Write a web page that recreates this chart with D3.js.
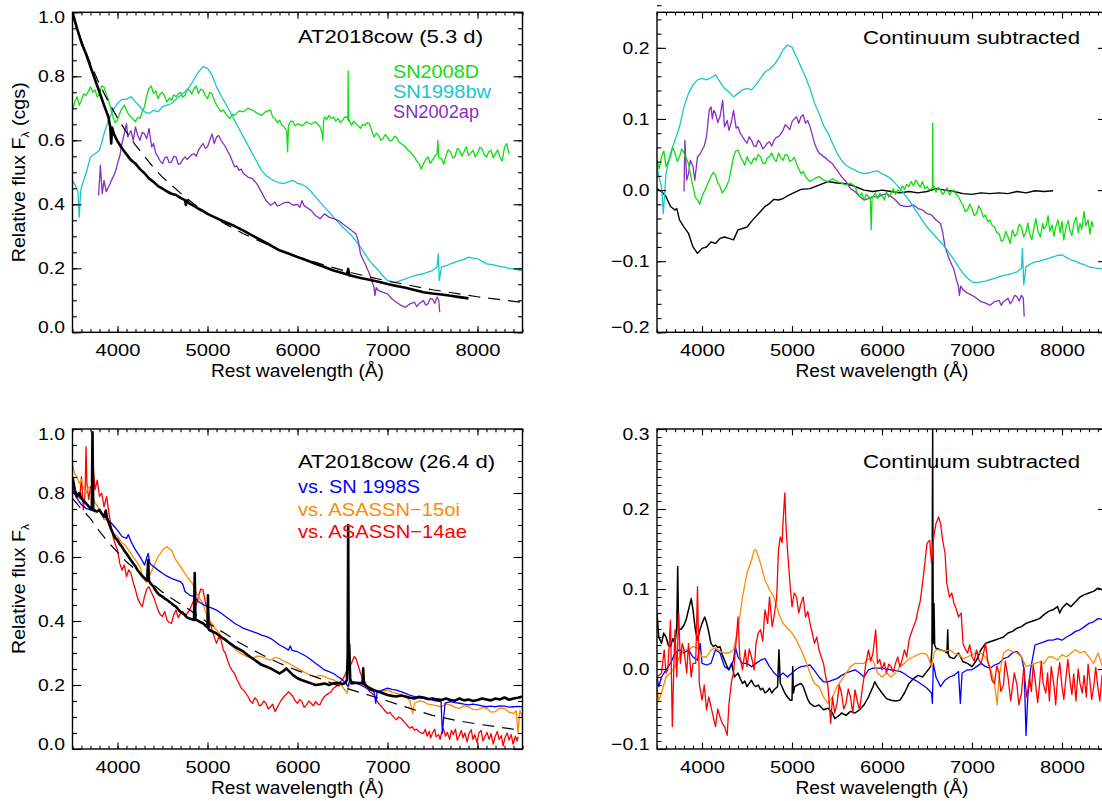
<!DOCTYPE html>
<html>
<head>
<meta charset="utf-8">
<script src="https://cdn.jsdelivr.net/npm/d3@7"></script>
<style>
  body { margin: 0; background: #fff; }
  text { font-family: "Liberation Sans", Arial, sans-serif; }
</style>
</head>
<body>
<svg id="chart" width="1102" height="801"></svg>
<script>
// ---- data: [wavelength (A), flux] ----

// panel A : AT2018cow at 5.3 d vs SNe Ic-BL
const cowEarly = [[3500,1.0],[3550,0.95],[3600,0.905],[3650,0.87],[3700,0.83],[3750,0.79],[3800,0.75],[3850,0.71],[3900,0.672],[3920,0.64],[3930,0.59],[3940,0.64],[3960,0.62],[4000,0.597],[4050,0.575],[4100,0.556],[4150,0.538],[4200,0.527],[4250,0.51],[4300,0.497],[4350,0.481],[4400,0.47],[4450,0.457],[4500,0.449],[4550,0.44],[4600,0.433],[4650,0.429],[4700,0.42],[4750,0.413],[4760,0.398],[4770,0.412],[4800,0.402],[4850,0.395],[4900,0.386],[4950,0.379],[5000,0.37],[5100,0.357],[5200,0.344],[5300,0.332],[5400,0.318],[5500,0.302],[5600,0.287],[5700,0.272],[5800,0.256],[5900,0.246],[6000,0.235],[6100,0.225],[6200,0.214],[6300,0.204],[6400,0.193],[6500,0.185],[6550,0.181],[6563,0.198],[6575,0.178],[6600,0.177],[6700,0.17],[6800,0.164],[6900,0.158],[7000,0.151],[7100,0.145],[7200,0.139],[7300,0.132],[7400,0.125],[7500,0.121],[7600,0.118],[7700,0.114],[7800,0.11],[7900,0.106]];
const fitEarly = [[3500,0.99],[3600,0.91],[3700,0.84],[3800,0.775],[3900,0.72],[4000,0.67],[4100,0.625],[4200,0.585],[4300,0.55],[4400,0.515],[4500,0.485],[4600,0.46],[4700,0.435],[4800,0.412],[4900,0.39],[5000,0.372],[5200,0.338],[5400,0.308],[5600,0.282],[5800,0.258],[6000,0.237],[6300,0.21],[6600,0.186],[7000,0.16],[7500,0.133],[8000,0.111],[8500,0.093]];
const sn2008dA = [[3500,0.694],[3525,0.72],[3550,0.736],[3575,0.71],[3600,0.725],[3625,0.745],[3650,0.74],[3675,0.752],[3700,0.767],[3725,0.75],[3750,0.757],[3775,0.735],[3800,0.746],[3825,0.77],[3850,0.767],[3875,0.745],[3900,0.725],[3925,0.7],[3950,0.673],[3975,0.655],[4000,0.663],[4025,0.685],[4050,0.7],[4075,0.71],[4100,0.694],[4125,0.68],[4150,0.673],[4175,0.665],[4200,0.658],[4225,0.672],[4250,0.668],[4275,0.69],[4300,0.705],[4325,0.74],[4350,0.762],[4375,0.77],[4400,0.746],[4425,0.755],[4450,0.73],[4475,0.745],[4500,0.75],[4525,0.738],[4550,0.72],[4575,0.732],[4600,0.725],[4625,0.742],[4650,0.736],[4675,0.745],[4700,0.75],[4725,0.735],[4750,0.74],[4775,0.76],[4800,0.757],[4825,0.745],[4850,0.762],[4875,0.77],[4900,0.746],[4925,0.76],[4950,0.757],[4975,0.74],[5000,0.73],[5025,0.75],[5050,0.746],[5075,0.725],[5100,0.71],[5125,0.7],[5150,0.689],[5175,0.695],[5200,0.684],[5225,0.675],[5250,0.668],[5275,0.682],[5300,0.678],[5350,0.692],[5400,0.689],[5450,0.7],[5500,0.694],[5550,0.685],[5600,0.678],[5650,0.69],[5700,0.694],[5725,0.672],[5750,0.668],[5775,0.655],[5800,0.663],[5825,0.648],[5850,0.642],[5880,0.63],[5890,0.564],[5900,0.647],[5925,0.66],[5950,0.658],[5975,0.645],[6000,0.652],[6050,0.645],[6100,0.658],[6150,0.65],[6200,0.658],[6250,0.642],[6275,0.62],[6280,0.6],[6290,0.66],[6300,0.673],[6325,0.665],[6350,0.678],[6375,0.668],[6400,0.673],[6425,0.66],[6450,0.668],[6475,0.655],[6500,0.663],[6525,0.672],[6550,0.673],[6560,0.665],[6563,0.817],[6567,0.66],[6575,0.663],[6600,0.647],[6625,0.66],[6650,0.652],[6675,0.645],[6700,0.637],[6725,0.65],[6750,0.647],[6775,0.655],[6800,0.652],[6825,0.63],[6850,0.61],[6875,0.622],[6900,0.616],[6925,0.6],[6950,0.605],[6975,0.618],[7000,0.61],[7025,0.598],[7050,0.6],[7075,0.612],[7100,0.61],[7125,0.595],[7150,0.59],[7175,0.585],[7200,0.579],[7225,0.57],[7250,0.564],[7275,0.555],[7300,0.548],[7325,0.535],[7350,0.527],[7375,0.51],[7400,0.527],[7425,0.54],[7450,0.548],[7475,0.528],[7500,0.538],[7525,0.55],[7550,0.558],[7560,0.6],[7570,0.545],[7600,0.543],[7625,0.525],[7650,0.553],[7675,0.57],[7700,0.564],[7725,0.545],[7750,0.548],[7775,0.575],[7800,0.569],[7825,0.55],[7850,0.564],[7875,0.58],[7900,0.553],[7925,0.56],[7950,0.569],[7975,0.548],[8000,0.558],[8025,0.578],[8050,0.574],[8075,0.555],[8100,0.548],[8125,0.565],[8150,0.569],[8175,0.545],[8200,0.558],[8225,0.57],[8250,0.548],[8275,0.535],[8300,0.579],[8325,0.59],[8350,0.558]];
const sn1998bwA = [[3500,0.475],[3530,0.46],[3560,0.44],[3575,0.36],[3590,0.44],[3600,0.454],[3650,0.496],[3700,0.548],[3750,0.558],[3800,0.569],[3850,0.62],[3900,0.663],[3950,0.694],[4000,0.715],[4050,0.728],[4100,0.728],[4150,0.736],[4200,0.72],[4250,0.705],[4300,0.689],[4350,0.684],[4400,0.694],[4450,0.689],[4500,0.705],[4550,0.71],[4600,0.715],[4650,0.728],[4700,0.741],[4750,0.752],[4800,0.767],[4850,0.79],[4900,0.814],[4950,0.83],[5000,0.825],[5050,0.804],[5100,0.767],[5150,0.74],[5200,0.715],[5250,0.69],[5300,0.663],[5350,0.636],[5400,0.61],[5450,0.584],[5500,0.558],[5550,0.532],[5600,0.506],[5650,0.49],[5700,0.48],[5750,0.472],[5800,0.467],[5850,0.465],[5900,0.47],[5950,0.475],[6000,0.465],[6050,0.462],[6100,0.454],[6150,0.44],[6200,0.423],[6250,0.407],[6300,0.391],[6350,0.376],[6400,0.36],[6450,0.345],[6500,0.329],[6550,0.316],[6600,0.303],[6650,0.285],[6700,0.266],[6750,0.245],[6800,0.224],[6850,0.208],[6900,0.193],[6950,0.176],[7000,0.162],[7050,0.158],[7100,0.157],[7150,0.162],[7200,0.167],[7250,0.172],[7300,0.177],[7350,0.18],[7400,0.183],[7450,0.188],[7500,0.193],[7550,0.204],[7565,0.245],[7575,0.162],[7600,0.204],[7650,0.208],[7700,0.214],[7750,0.219],[7800,0.224],[7850,0.228],[7900,0.235],[7950,0.232],[8000,0.23],[8050,0.222],[8100,0.214],[8150,0.212],[8200,0.209],[8250,0.206],[8300,0.204],[8350,0.2],[8400,0.198],[8450,0.195],[8500,0.193]];
const sn2002apA = [[3790,0.428],[3810,0.522],[3830,0.433],[3850,0.475],[3875,0.44],[3900,0.454],[3925,0.47],[3950,0.485],[3975,0.5],[4000,0.527],[4025,0.55],[4050,0.59],[4075,0.62],[4100,0.652],[4115,0.61],[4130,0.62],[4150,0.63],[4175,0.6],[4200,0.642],[4225,0.615],[4250,0.6],[4275,0.625],[4300,0.62],[4325,0.605],[4350,0.637],[4380,0.579],[4400,0.59],[4425,0.56],[4450,0.548],[4475,0.535],[4500,0.527],[4525,0.545],[4550,0.548],[4575,0.53],[4600,0.532],[4625,0.55],[4650,0.548],[4675,0.525],[4700,0.527],[4725,0.54],[4750,0.548],[4775,0.54],[4800,0.548],[4825,0.555],[4850,0.558],[4875,0.55],[4900,0.569],[4925,0.58],[4950,0.59],[4975,0.575],[5000,0.579],[5025,0.6],[5050,0.62],[5075,0.59],[5100,0.61],[5125,0.615],[5150,0.6],[5175,0.59],[5200,0.579],[5225,0.565],[5250,0.553],[5275,0.535],[5300,0.517],[5325,0.52],[5350,0.506],[5375,0.51],[5400,0.496],[5450,0.485],[5500,0.48],[5550,0.464],[5600,0.438],[5650,0.412],[5700,0.397],[5725,0.402],[5750,0.407],[5775,0.395],[5800,0.397],[5850,0.405],[5900,0.407],[5950,0.397],[6000,0.4],[6025,0.39],[6050,0.412],[6075,0.395],[6100,0.391],[6150,0.381],[6200,0.365],[6250,0.355],[6300,0.37],[6350,0.36],[6400,0.355],[6450,0.35],[6500,0.339],[6550,0.329],[6600,0.318],[6650,0.308],[6675,0.285],[6700,0.245],[6750,0.214],[6800,0.183],[6825,0.16],[6850,0.141],[6860,0.115],[6875,0.14],[6900,0.13],[6950,0.125],[7000,0.12],[7050,0.104],[7100,0.094],[7150,0.084],[7200,0.078],[7250,0.089],[7300,0.094],[7325,0.08],[7350,0.089],[7400,0.099],[7425,0.085],[7450,0.089],[7475,0.105],[7500,0.104],[7525,0.09],[7550,0.11],[7570,0.1],[7580,0.063]];

// panel B : continuum subtracted, 5.3 d
const cowSubEarly = [[3500,0.002],[3550,-0.002],[3600,-0.009],[3650,-0.023],[3700,-0.028],[3720,-0.026],[3750,-0.042],[3800,-0.052],[3850,-0.061],[3900,-0.08],[3950,-0.089],[4000,-0.082],[4050,-0.08],[4100,-0.073],[4150,-0.075],[4200,-0.068],[4250,-0.066],[4300,-0.068],[4350,-0.07],[4400,-0.056],[4450,-0.054],[4500,-0.052],[4550,-0.044],[4600,-0.037],[4650,-0.03],[4700,-0.023],[4750,-0.019],[4800,-0.013],[4850,-0.014],[4900,-0.012],[4950,-0.008],[5000,-0.005],[5100,0.001],[5200,0.002],[5300,0.007],[5400,0.012],[5500,0.01],[5600,0.009],[5700,0.005],[5800,0.0],[5900,-0.002],[6000,0.0],[6100,-0.002],[6200,-0.004],[6300,-0.002],[6400,-0.004],[6500,-0.002],[6600,0.002],[6700,0.0],[6800,-0.002],[6900,-0.005],[7000,-0.006],[7100,-0.004],[7200,-0.005],[7300,-0.004],[7400,-0.005],[7500,-0.002],[7600,-0.004],[7700,-0.001],[7800,-0.002],[7900,-0.001]];
const sn1998bwSub = [[3500,0.033],[3520,0.019],[3550,0.005],[3570,-0.033],[3600,0.023],[3650,0.052],[3700,0.07],[3750,0.089],[3800,0.117],[3850,0.136],[3900,0.148],[3950,0.155],[4000,0.157],[4050,0.155],[4100,0.158],[4150,0.162],[4200,0.152],[4250,0.143],[4300,0.138],[4350,0.131],[4400,0.136],[4450,0.141],[4500,0.143],[4550,0.141],[4600,0.148],[4650,0.157],[4700,0.166],[4750,0.17],[4800,0.176],[4850,0.185],[4900,0.197],[4950,0.204],[5000,0.201],[5050,0.187],[5100,0.173],[5150,0.159],[5200,0.143],[5250,0.122],[5300,0.108],[5350,0.091],[5400,0.08],[5450,0.066],[5500,0.052],[5550,0.042],[5600,0.035],[5650,0.031],[5700,0.028],[5750,0.025],[5800,0.023],[5850,0.024],[5900,0.026],[5950,0.027],[6000,0.023],[6050,0.02],[6100,0.016],[6150,0.009],[6200,0.002],[6250,-0.006],[6300,-0.014],[6350,-0.024],[6400,-0.033],[6450,-0.043],[6500,-0.052],[6550,-0.059],[6600,-0.066],[6650,-0.073],[6700,-0.08],[6750,-0.089],[6800,-0.098],[6850,-0.108],[6900,-0.117],[6950,-0.124],[7000,-0.129],[7050,-0.13],[7100,-0.129],[7150,-0.128],[7200,-0.126],[7250,-0.124],[7300,-0.122],[7350,-0.12],[7400,-0.119],[7450,-0.117],[7500,-0.115],[7550,-0.11],[7560,-0.082],[7575,-0.133],[7600,-0.108],[7650,-0.104],[7700,-0.101],[7750,-0.1],[7800,-0.098],[7850,-0.096],[7900,-0.094],[7950,-0.092],[8000,-0.091],[8050,-0.095],[8100,-0.098],[8150,-0.1],[8200,-0.103],[8250,-0.105],[8300,-0.108],[8350,-0.109],[8400,-0.11],[8450,-0.111],[8500,-0.112]];
const sn2002apSub = [[3800,-0.002],[3810,0.07],[3830,0.014],[3850,0.023],[3870,0.042],[3900,0.033],[3920,0.014],[3950,0.047],[3975,0.05],[4000,0.056],[4025,0.062],[4050,0.075],[4080,0.112],[4100,0.117],[4115,0.1],[4130,0.112],[4150,0.108],[4175,0.095],[4200,0.103],[4230,0.126],[4250,0.089],[4280,0.098],[4300,0.084],[4325,0.095],[4350,0.112],[4380,0.087],[4400,0.089],[4425,0.08],[4450,0.075],[4475,0.07],[4500,0.066],[4525,0.075],[4550,0.07],[4575,0.062],[4600,0.061],[4625,0.07],[4650,0.066],[4675,0.058],[4700,0.061],[4725,0.066],[4750,0.068],[4775,0.062],[4800,0.07],[4825,0.074],[4850,0.075],[4875,0.079],[4900,0.084],[4925,0.092],[4950,0.089],[4975,0.085],[5000,0.096],[5025,0.1],[5050,0.103],[5075,0.094],[5100,0.103],[5125,0.106],[5150,0.094],[5175,0.098],[5200,0.089],[5225,0.078],[5250,0.066],[5275,0.058],[5300,0.052],[5325,0.05],[5350,0.047],[5375,0.045],[5400,0.042],[5450,0.037],[5500,0.028],[5550,0.019],[5600,0.012],[5650,0.002],[5700,-0.002],[5750,-0.009],[5800,-0.014],[5850,-0.012],[5900,-0.009],[5950,-0.01],[6000,-0.007],[6050,-0.005],[6100,-0.009],[6150,-0.014],[6200,-0.021],[6250,-0.023],[6300,-0.023],[6350,-0.021],[6400,-0.026],[6450,-0.028],[6500,-0.033],[6550,-0.035],[6600,-0.042],[6650,-0.047],[6675,-0.06],[6700,-0.08],[6750,-0.098],[6800,-0.112],[6825,-0.125],[6850,-0.136],[6860,-0.148],[6875,-0.135],[6900,-0.14],[6950,-0.145],[7000,-0.148],[7050,-0.152],[7100,-0.157],[7150,-0.159],[7200,-0.162],[7250,-0.157],[7300,-0.155],[7325,-0.162],[7350,-0.157],[7400,-0.152],[7425,-0.16],[7450,-0.155],[7475,-0.148],[7500,-0.15],[7525,-0.156],[7550,-0.148],[7570,-0.152],[7580,-0.178]];
const sn2008dSub = [[3500,0.042],[3525,0.03],[3550,0.047],[3575,0.055],[3600,0.033],[3625,0.04],[3650,0.047],[3675,0.06],[3700,0.052],[3725,0.04],[3750,0.047],[3775,0.058],[3800,0.052],[3825,0.045],[3850,0.037],[3875,0.02],[3900,0.005],[3925,-0.01],[3950,-0.014],[3975,-0.02],[4000,-0.009],[4025,-0.002],[4050,0.005],[4075,0.012],[4100,0.019],[4125,0.025],[4150,0.021],[4175,0.01],[4200,0.005],[4225,-0.004],[4250,0.0],[4275,0.006],[4300,0.014],[4325,0.03],[4350,0.047],[4375,0.055],[4400,0.056],[4425,0.048],[4450,0.042],[4475,0.035],[4500,0.047],[4525,0.04],[4550,0.037],[4575,0.045],[4600,0.042],[4625,0.05],[4650,0.047],[4675,0.038],[4700,0.037],[4725,0.045],[4750,0.047],[4775,0.052],[4800,0.044],[4825,0.04],[4850,0.052],[4875,0.045],[4900,0.042],[4925,0.05],[4950,0.049],[4975,0.04],[5000,0.042],[5025,0.046],[5050,0.037],[5075,0.03],[5100,0.023],[5125,0.026],[5150,0.019],[5175,0.015],[5200,0.012],[5250,0.016],[5300,0.019],[5350,0.014],[5400,0.012],[5450,0.016],[5500,0.012],[5550,0.01],[5600,0.007],[5650,0.01],[5700,0.005],[5725,-0.003],[5750,-0.009],[5775,-0.004],[5800,-0.014],[5825,-0.006],[5850,-0.009],[5870,-0.012],[5880,-0.056],[5890,-0.01],[5900,-0.009],[5925,-0.004],[5950,-0.012],[5975,-0.005],[6000,-0.007],[6025,-0.014],[6050,-0.003],[6075,-0.01],[6100,-0.005],[6125,0.002],[6150,-0.006],[6175,0.0],[6200,-0.002],[6225,0.006],[6250,0.001],[6275,0.008],[6300,0.005],[6325,0.012],[6350,0.006],[6375,0.014],[6400,0.009],[6425,0.004],[6450,0.012],[6475,0.002],[6500,0.005],[6525,0.0],[6550,0.002],[6560,0.004],[6563,0.094],[6567,0.003],[6580,0.005],[6600,-0.003],[6625,0.004],[6650,0.0],[6675,-0.006],[6700,-0.002],[6725,0.003],[6750,-0.007],[6775,-0.002],[6800,0.0],[6825,-0.006],[6850,-0.009],[6875,-0.016],[6900,-0.021],[6925,-0.03],[6950,-0.028],[6975,-0.02],[7000,-0.026],[7025,-0.036],[7050,-0.033],[7075,-0.022],[7100,-0.028],[7125,-0.038],[7150,-0.035],[7175,-0.045],[7200,-0.042],[7225,-0.05],[7250,-0.052],[7275,-0.06],[7300,-0.061],[7325,-0.072],[7350,-0.07],[7375,-0.058],[7400,-0.066],[7425,-0.075],[7450,-0.056],[7475,-0.065],[7500,-0.061],[7525,-0.048],[7550,-0.052],[7575,-0.066],[7600,-0.059],[7620,-0.046],[7640,-0.062],[7665,-0.07],[7690,-0.052],[7710,-0.04],[7735,-0.059],[7760,-0.066],[7785,-0.047],[7800,-0.055],[7825,-0.05],[7845,-0.036],[7865,-0.058],[7890,-0.049],[7910,-0.065],[7930,-0.052],[7955,-0.042],[7980,-0.06],[8000,-0.044],[8020,-0.07],[8045,-0.052],[8070,-0.043],[8090,-0.058],[8110,-0.064],[8135,-0.045],[8160,-0.038],[8180,-0.06],[8200,-0.047],[8220,-0.055],[8245,-0.03],[8265,-0.05],[8290,-0.042],[8310,-0.062],[8330,-0.044],[8350,-0.052]];

// panel C : AT2018cow at 26.4 d vs interacting / TDE
const cowLate = [[3500,0.851],[3525,0.81],[3550,0.789],[3575,0.8],[3600,0.783],[3625,0.775],[3650,0.768],[3675,0.76],[3700,0.752],[3715,0.748],[3722,0.99],[3730,0.75],[3740,0.747],[3770,0.742],[3800,0.747],[3825,0.735],[3850,0.726],[3870,0.745],[3885,0.72],[3900,0.71],[3925,0.69],[3950,0.674],[3975,0.66],[4000,0.653],[4025,0.64],[4050,0.632],[4075,0.62],[4100,0.611],[4125,0.6],[4150,0.59],[4175,0.58],[4200,0.57],[4225,0.558],[4250,0.549],[4275,0.54],[4300,0.533],[4330,0.527],[4340,0.59],[4350,0.525],[4375,0.515],[4400,0.507],[4425,0.495],[4450,0.486],[4475,0.48],[4500,0.476],[4525,0.47],[4550,0.466],[4575,0.46],[4600,0.455],[4625,0.449],[4650,0.445],[4675,0.436],[4700,0.429],[4725,0.424],[4750,0.419],[4775,0.41],[4800,0.408],[4830,0.405],[4850,0.403],[4858,0.55],[4866,0.404],[4880,0.403],[4900,0.4],[4925,0.396],[4950,0.393],[4980,0.385],[5000,0.38],[5005,0.48],[5012,0.375],[5020,0.372],[5050,0.368],[5100,0.361],[5150,0.35],[5200,0.341],[5250,0.33],[5300,0.32],[5350,0.312],[5400,0.304],[5450,0.293],[5500,0.283],[5550,0.273],[5600,0.263],[5650,0.258],[5700,0.252],[5750,0.244],[5800,0.236],[5850,0.245],[5875,0.252],[5900,0.245],[5950,0.231],[6000,0.221],[6050,0.215],[6100,0.21],[6150,0.205],[6200,0.2],[6250,0.202],[6300,0.205],[6350,0.2],[6400,0.205],[6450,0.207],[6500,0.203],[6530,0.206],[6550,0.216],[6558,0.3],[6563,0.7],[6568,0.33],[6575,0.325],[6585,0.22],[6600,0.205],[6650,0.207],[6700,0.206],[6722,0.205],[6730,0.252],[6738,0.203],[6750,0.2],[6800,0.19],[6850,0.184],[6900,0.179],[6950,0.174],[7000,0.169],[7050,0.166],[7100,0.164],[7150,0.167],[7200,0.164],[7250,0.16],[7300,0.158],[7350,0.163],[7400,0.161],[7450,0.156],[7500,0.158],[7550,0.155],[7600,0.153],[7650,0.158],[7700,0.153],[7750,0.151],[7800,0.158],[7850,0.152],[7900,0.155],[7950,0.15],[8000,0.153],[8050,0.158],[8100,0.155],[8150,0.152],[8200,0.158],[8250,0.155],[8300,0.161],[8350,0.154],[8400,0.158],[8450,0.16],[8500,0.164]];
const fitLate = [[3500,0.783],[3600,0.75],[3700,0.72],[3800,0.68],[3900,0.645],[4000,0.615],[4100,0.585],[4200,0.56],[4350,0.525],[4500,0.49],[4650,0.462],[4800,0.435],[5000,0.395],[5200,0.36],[5350,0.333],[5500,0.31],[5650,0.288],[5800,0.268],[6000,0.245],[6250,0.22],[6500,0.193],[6750,0.172],[7000,0.15],[7250,0.127],[7500,0.105],[7750,0.09],[8000,0.078],[8250,0.068],[8450,0.06]];
const sn1998sC = [[3500,0.81],[3550,0.783],[3600,0.763],[3650,0.752],[3700,0.747],[3750,0.742],[3800,0.747],[3850,0.726],[3900,0.716],[3950,0.7],[4000,0.684],[4050,0.664],[4100,0.658],[4120,0.67],[4150,0.648],[4200,0.622],[4250,0.601],[4300,0.575],[4340,0.611],[4360,0.58],[4400,0.57],[4450,0.559],[4500,0.549],[4550,0.54],[4600,0.533],[4650,0.528],[4700,0.523],[4725,0.515],[4750,0.492],[4800,0.481],[4850,0.476],[4900,0.46],[4950,0.452],[5000,0.445],[5050,0.44],[5100,0.434],[5150,0.425],[5200,0.414],[5250,0.404],[5300,0.393],[5350,0.385],[5400,0.377],[5450,0.372],[5500,0.367],[5550,0.362],[5600,0.356],[5650,0.352],[5700,0.346],[5750,0.336],[5800,0.325],[5850,0.318],[5900,0.309],[5920,0.322],[5940,0.308],[6000,0.304],[6050,0.297],[6100,0.289],[6150,0.279],[6200,0.268],[6250,0.258],[6300,0.247],[6350,0.242],[6400,0.236],[6450,0.226],[6500,0.216],[6540,0.205],[6560,0.195],[6580,0.215],[6600,0.212],[6650,0.206],[6700,0.2],[6750,0.193],[6800,0.184],[6850,0.18],[6870,0.143],[6885,0.18],[6900,0.179],[6950,0.185],[7000,0.19],[7050,0.186],[7100,0.184],[7150,0.179],[7200,0.174],[7250,0.168],[7300,0.164],[7350,0.16],[7400,0.158],[7450,0.155],[7500,0.153],[7550,0.15],[7595,0.148],[7610,0.049],[7625,0.1],[7640,0.143],[7700,0.148],[7750,0.145],[7800,0.143],[7850,0.14],[7900,0.138],[7950,0.14],[8000,0.138],[8050,0.135],[8100,0.132],[8150,0.134],[8200,0.132],[8250,0.135],[8300,0.134],[8350,0.131],[8400,0.132],[8450,0.133],[8500,0.132]];
const asassn15oiC = [[3500,0.888],[3525,0.86],[3550,0.851],[3575,0.83],[3600,0.841],[3625,0.815],[3650,0.799],[3675,0.82],[3700,0.81],[3725,0.79],[3750,0.768],[3775,0.76],[3800,0.747],[3825,0.735],[3850,0.716],[3875,0.72],[3900,0.705],[3925,0.69],[3950,0.674],[3975,0.67],[4000,0.664],[4025,0.655],[4050,0.643],[4075,0.64],[4100,0.632],[4125,0.62],[4150,0.611],[4175,0.6],[4200,0.59],[4225,0.58],[4250,0.57],[4275,0.545],[4300,0.528],[4325,0.52],[4350,0.539],[4375,0.552],[4400,0.57],[4425,0.585],[4450,0.601],[4475,0.61],[4500,0.622],[4525,0.628],[4550,0.632],[4575,0.625],[4600,0.622],[4625,0.605],[4650,0.59],[4675,0.58],[4700,0.57],[4725,0.558],[4750,0.549],[4775,0.538],[4800,0.528],[4825,0.52],[4850,0.507],[4875,0.49],[4900,0.476],[4925,0.465],[4950,0.455],[4975,0.43],[5000,0.414],[5025,0.4],[5050,0.393],[5075,0.38],[5100,0.372],[5150,0.355],[5200,0.341],[5250,0.328],[5300,0.315],[5350,0.302],[5400,0.294],[5450,0.287],[5500,0.283],[5550,0.29],[5600,0.289],[5650,0.282],[5700,0.278],[5750,0.286],[5800,0.283],[5850,0.274],[5900,0.268],[5950,0.26],[6000,0.252],[6050,0.244],[6100,0.236],[6150,0.23],[6200,0.226],[6250,0.23],[6300,0.226],[6350,0.22],[6400,0.216],[6450,0.206],[6500,0.195],[6550,0.174],[6575,0.2],[6600,0.21],[6650,0.208],[6700,0.205],[6750,0.2],[6800,0.195],[6850,0.186],[6900,0.179],[6950,0.182],[7000,0.184],[7050,0.178],[7100,0.174],[7150,0.17],[7200,0.164],[7250,0.15],[7280,0.111],[7300,0.143],[7350,0.15],[7400,0.148],[7450,0.14],[7500,0.138],[7550,0.135],[7600,0.132],[7650,0.14],[7700,0.138],[7750,0.13],[7800,0.127],[7850,0.135],[7900,0.132],[7950,0.124],[8000,0.122],[8050,0.13],[8100,0.127],[8150,0.115],[8200,0.117],[8250,0.128],[8300,0.127],[8350,0.115],[8400,0.111],[8430,0.12],[8450,0.049],[8470,0.12],[8500,0.101]];
const asassn14aeC = [[3500,0.82],[3525,0.805],[3550,0.799],[3580,0.783],[3600,0.851],[3620,0.747],[3640,0.8],[3650,0.945],[3660,0.83],[3680,0.78],[3700,0.82],[3715,0.79],[3730,0.882],[3750,0.81],[3775,0.84],[3800,0.789],[3825,0.8],[3850,0.757],[3880,0.789],[3900,0.747],[3925,0.7],[3950,0.664],[3975,0.64],[4000,0.622],[4025,0.58],[4050,0.559],[4075,0.575],[4100,0.539],[4125,0.56],[4150,0.549],[4175,0.52],[4200,0.497],[4225,0.47],[4250,0.455],[4275,0.445],[4300,0.476],[4325,0.5],[4350,0.507],[4375,0.49],[4400,0.476],[4425,0.455],[4450,0.434],[4475,0.42],[4500,0.414],[4525,0.43],[4550,0.403],[4575,0.395],[4600,0.393],[4625,0.42],[4650,0.434],[4675,0.41],[4700,0.424],[4725,0.43],[4750,0.414],[4775,0.425],[4800,0.434],[4825,0.45],[4850,0.466],[4875,0.45],[4900,0.476],[4925,0.5],[4950,0.497],[4975,0.46],[5000,0.434],[5025,0.4],[5050,0.372],[5075,0.35],[5100,0.33],[5125,0.35],[5150,0.341],[5175,0.31],[5200,0.299],[5225,0.275],[5250,0.257],[5275,0.245],[5300,0.236],[5325,0.218],[5350,0.205],[5375,0.19],[5400,0.184],[5425,0.175],[5450,0.164],[5475,0.15],[5500,0.143],[5525,0.16],[5550,0.153],[5575,0.135],[5600,0.138],[5625,0.15],[5650,0.143],[5675,0.125],[5700,0.132],[5725,0.14],[5750,0.117],[5775,0.13],[5800,0.143],[5825,0.155],[5850,0.164],[5875,0.17],[5900,0.179],[5925,0.172],[5950,0.164],[5975,0.15],[6000,0.143],[6025,0.155],[6050,0.148],[6075,0.13],[6100,0.138],[6125,0.15],[6150,0.143],[6175,0.135],[6200,0.148],[6225,0.14],[6250,0.138],[6275,0.155],[6300,0.164],[6325,0.17],[6350,0.174],[6375,0.18],[6400,0.19],[6425,0.195],[6450,0.2],[6475,0.21],[6500,0.216],[6525,0.23],[6550,0.247],[6575,0.255],[6600,0.268],[6630,0.289],[6650,0.283],[6675,0.26],[6700,0.236],[6725,0.222],[6750,0.21],[6775,0.195],[6800,0.179],[6825,0.175],[6850,0.169],[6875,0.155],[6900,0.143],[6925,0.135],[6950,0.127],[6975,0.118],[7000,0.111],[7025,0.115],[7050,0.106],[7075,0.098],[7100,0.091],[7125,0.1],[7150,0.096],[7175,0.088],[7200,0.08],[7225,0.072],[7250,0.065],[7275,0.07],[7300,0.059],[7325,0.062],[7350,0.054],[7375,0.05],[7400,0.049],[7420,0.062],[7440,0.04],[7465,0.055],[7480,0.035],[7500,0.05],[7525,0.062],[7540,0.038],[7565,0.045],[7585,0.03],[7600,0.05],[7620,0.064],[7645,0.04],[7665,0.052],[7690,0.03],[7710,0.058],[7730,0.045],[7755,0.062],[7775,0.028],[7795,0.04],[7820,0.058],[7840,0.035],[7860,0.05],[7885,0.022],[7905,0.048],[7930,0.06],[7950,0.03],[7970,0.045],[7995,0.02],[8015,0.05],[8040,0.058],[8060,0.025],[8085,0.04],[8105,0.052],[8130,0.03],[8150,0.048],[8175,0.015],[8195,0.038],[8220,0.055],[8240,0.03],[8265,0.042],[8285,0.01],[8305,0.035],[8330,0.05],[8350,0.028],[8375,0.045],[8395,0.015],[8420,0.04],[8440,0.025],[8450,0.039]];

// panel D : continuum subtracted, 26.4 d
const cowSubLate = [[3500,0.07],[3520,0.04],[3550,0.032],[3575,0.045],[3600,0.04],[3625,0.03],[3650,0.028],[3675,0.038],[3700,0.032],[3720,0.053],[3730,0.128],[3740,0.049],[3770,0.05],[3800,0.055],[3825,0.062],[3850,0.074],[3880,0.088],[3900,0.074],[3925,0.05],[3950,0.036],[3975,0.048],[4000,0.057],[4030,0.065],[4050,0.058],[4070,0.049],[4100,0.032],[4125,0.028],[4150,0.03],[4175,0.027],[4200,0.028],[4225,0.018],[4250,0.011],[4275,0.004],[4300,-0.001],[4330,0.007],[4360,-0.01],[4400,-0.005],[4425,-0.012],[4450,-0.018],[4475,-0.015],[4500,-0.022],[4525,-0.018],[4550,-0.014],[4575,-0.02],[4600,-0.022],[4625,-0.02],[4650,-0.026],[4675,-0.024],[4700,-0.03],[4725,-0.028],[4750,-0.024],[4775,-0.03],[4800,-0.026],[4840,-0.022],[4855,0.024],[4870,-0.018],[4880,-0.02],[4920,-0.03],[4950,-0.035],[4980,-0.039],[5000,-0.039],[5008,0.003],[5016,-0.03],[5030,-0.022],[5060,-0.02],[5100,-0.018],[5125,-0.022],[5150,-0.03],[5175,-0.038],[5200,-0.043],[5250,-0.047],[5300,-0.045],[5350,-0.051],[5400,-0.049],[5450,-0.055],[5475,-0.062],[5500,-0.06],[5525,-0.058],[5550,-0.055],[5600,-0.058],[5650,-0.053],[5700,-0.055],[5750,-0.051],[5800,-0.045],[5850,-0.035],[5900,-0.022],[5920,-0.016],[5950,-0.022],[6000,-0.03],[6050,-0.037],[6100,-0.039],[6150,-0.04],[6200,-0.039],[6250,-0.03],[6300,-0.018],[6350,-0.012],[6400,-0.008],[6450,-0.01],[6500,-0.003],[6540,0.003],[6555,0.024],[6560,0.2],[6563,0.3],[6566,0.15],[6570,0.032],[6578,0.082],[6585,0.03],[6600,0.026],[6650,0.024],[6700,0.022],[6722,0.02],[6730,0.049],[6738,0.018],[6750,0.015],[6800,0.013],[6850,0.02],[6900,0.009],[6950,0.007],[7000,0.003],[7050,0.011],[7100,0.024],[7150,0.032],[7200,0.034],[7250,0.036],[7300,0.038],[7350,0.04],[7400,0.045],[7450,0.047],[7500,0.051],[7550,0.053],[7600,0.057],[7650,0.059],[7700,0.061],[7750,0.063],[7800,0.068],[7850,0.072],[7900,0.074],[7950,0.078],[7975,0.07],[8000,0.076],[8050,0.082],[8100,0.078],[8150,0.084],[8200,0.09],[8250,0.093],[8300,0.095],[8350,0.097],[8400,0.101],[8450,0.099],[8500,0.1]];
const sn1998sSub = [[3500,-0.01],[3520,-0.022],[3550,-0.01],[3600,-0.001],[3650,0.007],[3700,0.02],[3750,0.024],[3800,0.02],[3850,0.024],[3900,0.015],[3950,0.011],[3980,0.032],[4000,0.007],[4050,0.005],[4100,0.007],[4150,0.024],[4200,0.02],[4250,0.003],[4300,-0.001],[4350,0.011],[4370,0.028],[4400,0.015],[4450,0.007],[4500,0.007],[4550,0.003],[4600,0.007],[4650,0.011],[4700,0.013],[4750,0.003],[4800,-0.005],[4850,-0.01],[4900,-0.005],[4950,-0.01],[5000,-0.005],[5050,0.0],[5100,0.003],[5150,0.004],[5200,0.005],[5250,-0.002],[5300,-0.01],[5350,-0.016],[5400,-0.016],[5450,-0.014],[5500,-0.012],[5550,-0.008],[5600,-0.005],[5650,-0.003],[5700,-0.001],[5750,-0.005],[5800,-0.01],[5850,-0.001],[5900,0.001],[6000,0.001],[6100,-0.001],[6200,-0.003],[6250,-0.006],[6300,-0.01],[6350,-0.013],[6400,-0.016],[6450,-0.02],[6500,-0.024],[6550,-0.03],[6560,-0.043],[6570,0.007],[6600,-0.01],[6650,-0.022],[6700,-0.014],[6750,-0.01],[6800,-0.008],[6850,-0.003],[6870,-0.043],[6890,-0.005],[6950,-0.001],[7000,-0.001],[7050,0.003],[7100,0.007],[7150,0.003],[7200,0.001],[7250,0.005],[7300,0.007],[7350,0.013],[7400,0.015],[7450,0.02],[7500,0.022],[7550,0.015],[7580,-0.001],[7600,-0.083],[7620,-0.035],[7650,-0.001],[7700,0.03],[7750,0.032],[7800,0.034],[7850,0.036],[7900,0.036],[7950,0.038],[8000,0.036],[8050,0.04],[8100,0.043],[8150,0.047],[8200,0.049],[8250,0.053],[8300,0.057],[8350,0.059],[8400,0.063],[8450,0.062],[8500,0.062]];
const asassn15oiSub = [[3500,-0.022],[3520,-0.039],[3550,-0.03],[3600,-0.01],[3650,-0.005],[3700,0.003],[3750,0.015],[3800,0.024],[3850,0.024],[3900,0.028],[3950,0.026],[4000,0.015],[4050,0.015],[4100,0.024],[4150,0.026],[4200,0.022],[4250,0.02],[4300,0.02],[4350,0.024],[4400,0.049],[4450,0.09],[4500,0.12],[4550,0.136],[4580,0.149],[4600,0.149],[4650,0.132],[4700,0.111],[4750,0.099],[4800,0.09],[4850,0.07],[4900,0.057],[4950,0.051],[5000,0.045],[5050,0.036],[5100,0.024],[5150,0.011],[5200,-0.005],[5250,-0.018],[5300,-0.022],[5350,-0.035],[5400,-0.043],[5450,-0.035],[5500,-0.022],[5550,-0.014],[5600,-0.005],[5650,0.003],[5700,0.007],[5750,0.007],[5800,0.007],[5850,0.013],[5900,0.011],[5950,-0.005],[6000,-0.01],[6050,-0.005],[6100,-0.01],[6150,-0.005],[6200,0.003],[6250,0.007],[6300,0.013],[6350,0.015],[6400,0.018],[6450,0.02],[6500,0.018],[6550,0.003],[6580,0.02],[6600,0.024],[6650,0.024],[6700,0.022],[6750,0.024],[6800,0.02],[6850,0.018],[6900,0.013],[6950,0.015],[7000,0.018],[7050,0.02],[7100,0.02],[7150,0.015],[7200,0.003],[7250,-0.018],[7280,-0.045],[7300,-0.01],[7350,0.02],[7400,0.024],[7450,0.022],[7500,0.02],[7550,0.015],[7600,0.003],[7650,0.005],[7700,0.007],[7750,0.009],[7800,0.007],[7850,0.015],[7900,0.015],[7950,0.011],[8000,0.018],[8050,0.015],[8100,0.02],[8150,0.024],[8200,0.02],[8250,0.022],[8300,0.015],[8350,0.007],[8400,0.02],[8450,0.003],[8500,0.003]];
const asassn14aeSub = [[3500,-0.01],[3550,-0.005],[3580,0.024],[3600,-0.005],[3620,-0.001],[3650,0.061],[3670,-0.072],[3690,0.015],[3700,0.049],[3720,-0.01],[3740,0.07],[3760,0.007],[3780,0.032],[3800,0.024],[3830,-0.005],[3850,0.032],[3880,-0.01],[3900,0.007],[3930,0.007],[3950,0.103],[3970,-0.018],[4000,-0.039],[4025,-0.02],[4050,-0.051],[4075,-0.035],[4100,-0.047],[4125,-0.06],[4150,-0.072],[4175,-0.05],[4200,-0.06],[4225,-0.068],[4250,-0.072],[4280,-0.083],[4300,-0.043],[4330,-0.014],[4350,-0.005],[4380,0.036],[4400,0.065],[4420,0.015],[4450,-0.001],[4480,0.024],[4500,0.003],[4525,0.025],[4550,0.015],[4580,-0.001],[4600,0.032],[4625,0.045],[4650,0.049],[4675,0.035],[4700,0.074],[4730,0.057],[4750,0.09],[4780,0.053],[4800,0.065],[4830,0.09],[4850,0.149],[4870,0.165],[4890,0.158],[4900,0.182],[4920,0.22],[4935,0.175],[4950,0.149],[4980,0.103],[5000,0.078],[5025,0.095],[5050,0.09],[5075,0.07],[5100,0.082],[5125,0.09],[5150,0.065],[5175,0.072],[5200,0.057],[5225,0.045],[5250,0.032],[5275,0.04],[5300,0.024],[5325,0.015],[5350,0.007],[5375,-0.01],[5400,-0.022],[5430,-0.068],[5450,-0.035],[5475,-0.055],[5500,-0.043],[5525,-0.02],[5550,-0.03],[5575,-0.05],[5600,-0.043],[5625,-0.025],[5650,-0.035],[5675,-0.055],[5700,-0.026],[5725,-0.04],[5750,-0.051],[5775,-0.03],[5800,-0.01],[5825,0.01],[5850,0.024],[5875,0.01],[5900,0.02],[5930,0.049],[5950,0.007],[5975,0.012],[6000,-0.001],[6025,0.008],[6050,-0.005],[6075,0.006],[6100,0.003],[6125,-0.004],[6150,0.007],[6175,0.015],[6200,0.003],[6225,0.012],[6250,0.024],[6275,0.015],[6300,0.036],[6325,0.045],[6350,0.053],[6375,0.06],[6400,0.074],[6425,0.085],[6450,0.107],[6480,0.136],[6500,0.157],[6530,0.161],[6550,0.132],[6575,0.165],[6600,0.182],[6630,0.19],[6650,0.182],[6675,0.16],[6700,0.145],[6720,0.107],[6750,0.09],[6775,0.095],[6800,0.082],[6825,0.075],[6850,0.065],[6880,0.07],[6900,0.032],[6925,0.025],[6950,0.02],[6975,0.03],[7000,0.015],[7025,0.01],[7050,0.024],[7075,0.012],[7100,0.007],[7125,0.018],[7150,0.032],[7175,0.01],[7200,-0.001],[7225,-0.015],[7250,-0.018],[7275,0.004],[7300,-0.005],[7320,-0.028],[7350,-0.02],[7370,0.01],[7400,-0.01],[7430,-0.04],[7450,-0.022],[7470,-0.005],[7500,-0.02],[7520,-0.045],[7550,-0.03],[7575,0.002],[7590,-0.015],[7610,-0.036],[7640,-0.01],[7660,-0.028],[7680,0.005],[7700,-0.012],[7730,-0.042],[7750,-0.02],[7770,0.01],[7790,-0.018],[7820,-0.03],[7840,-0.005],[7860,-0.04],[7880,0.003],[7910,-0.02],[7930,-0.045],[7950,-0.012],[7975,0.008],[8000,-0.022],[8020,-0.038],[8045,-0.01],[8065,0.012],[8090,-0.016],[8110,-0.032],[8130,-0.006],[8155,-0.04],[8180,0.0],[8200,-0.018],[8225,-0.03],[8245,-0.008],[8270,-0.035],[8290,0.006],[8310,-0.015],[8330,-0.038],[8355,-0.02],[8375,0.002],[8400,-0.025],[8420,-0.04],[8445,-0.008],[8465,-0.03],[8485,0.0],[8500,-0.02]];

// axis labels / annotations
const wavelengthTicks = [4000, 5000, 6000, 7000, 8000];
const legendEarly = ['SN2008D', 'SN1998bw', 'SN2002ap'];
const legendLate = ['vs. SN 1998S', 'vs. ASASSN\u221215oi', 'vs. ASASSN\u221214ae'];

const colors = {
  green: '#10dd10', cyan: '#16c6cf', purple: '#8630c0',
  blue: '#0000ff', orange: '#ff8a00', red: '#ff0000', black: '#000'
};

const svg = d3.select('#chart');
const PW = 450, PH = 320;
const FONT = '"Liberation Sans", Arial, sans-serif';

// the plotting font is wider than Helvetica, so widths are set explicitly
const glyphW = { '.': 4.5, '\u2212': 11.5 };
const labelWidth = s => Array.from(s).reduce((w, c) => w + (glyphW[c] || 11.2), 0);

function tickSet(lo, hi, step) {
  const n = Math.round((hi - lo) / step);
  return d3.range(n + 1).map(i => +(lo + i * step).toFixed(4));
}

function drawPanel(p) {
  const x = d3.scaleLinear().domain([3500, 8500]).range([p.left, p.left + PW]);
  const y = d3.scaleLinear().domain(p.yDomain).range([p.top + PH, p.top]);

  const clipId = 'clip-' + p.id;
  svg.append('clipPath').attr('id', clipId)
    .append('rect')
    .attr('x', p.left).attr('y', p.top)
    .attr('width', PW).attr('height', PH);

  const line = d3.line().x(d => x(d[0])).y(d => y(d[1]));

  // spectra
  svg.append('g')
    .attr('clip-path', `url(#${clipId})`)
    .selectAll('path')
    .data(p.series)
    .join('path')
    .attr('d', d => line(d.data))
    .attr('fill', 'none')
    .attr('stroke', d => d.color)
    .attr('stroke-width', d => d.width || 1.3)
    .attr('stroke-dasharray', d => d.dash || null)
    .attr('stroke-linejoin', 'round');

  // ticks on all four sides, pointing inward
  const xMinor = tickSet(3500, 8500, 100);
  const yMinor = tickSet(p.yDomain[0], p.yDomain[1], p.yMinorStep);

  const sides = [
    [() => d3.axisBottom(x), `translate(0,${p.top + PH})`, 6.4, 3.2],
    [() => d3.axisTop(x), `translate(0,${p.top})`, 6.4, 3.2],
    [() => d3.axisLeft(y), `translate(${p.left},0)`, 9, 4.5],
    [() => d3.axisRight(y), `translate(${p.left + PW},0)`, 9, 4.5]
  ];
  sides.forEach(([makeAxis, tr, major, minor], i) => {
    const isX = i < 2;
    svg.append('g').attr('transform', tr)
      .call(makeAxis().tickValues(isX ? xMinor : yMinor).tickSize(-minor).tickSizeOuter(0).tickFormat(''))
      .call(g => g.select('.domain').remove())
      .call(g => g.selectAll('line').attr('stroke-width', 1.1));
    const fmt = i === 0 ? d3.format('d') : i === 2 ? d3.format('.1f') : () => '';
    const gMaj = svg.append('g').attr('transform', tr)
      .call(makeAxis()
        .tickValues(isX ? wavelengthTicks : p.yMajor)
        .tickSize(-major).tickSizeOuter(0)
        .tickPadding(isX ? 12 : 7.5)
        .tickFormat(fmt))
      .call(g => g.select('.domain').remove())
      .call(g => g.selectAll('line').attr('stroke-width', 1.1));
    gMaj.selectAll('text')
      .attr('font-size', 17)
      .attr('font-family', FONT)
      .attr('fill', '#000');
    if (i === 0 || i === 2) {
      gMaj.selectAll('text')
        .attr('textLength', d => labelWidth(fmt(d)))
        .attr('lengthAdjust', 'spacingAndGlyphs');
    }
    if (i === 2) {
      // end labels are nudged inward
      gMaj.selectAll('text')
        .filter(d => d === p.yDomain[0]).attr('y', -5);
      gMaj.selectAll('text')
        .filter(d => d === p.yDomain[1]).attr('y', 5);
    }
  });

  // frame
  svg.append('rect')
    .attr('x', p.left).attr('y', p.top)
    .attr('width', PW).attr('height', PH)
    .attr('fill', 'none').attr('stroke', '#000').attr('stroke-width', 1.4);

  // x title
  svg.append('text')
    .attr('x', p.left + PW / 2).attr('y', p.top + PH + 45)
    .attr('text-anchor', 'middle').attr('font-size', 17.5)
    .attr('textLength', 173).attr('lengthAdjust', 'spacingAndGlyphs')
    .attr('fill', '#000')
    .text('Rest wavelength (\u00c5)');

  // y title
  if (p.yTitle !== undefined) {
    const t = svg.append('text')
      .attr('transform', `translate(25,${p.top + PH / 2}) rotate(-90)`)
      .attr('text-anchor', 'middle').attr('font-size', 18)
      .attr('textLength', p.yTitleWidth).attr('lengthAdjust', 'spacingAndGlyphs')
      .attr('fill', '#000');
    t.append('tspan').text('Relative flux F');
    t.append('tspan').attr('dy', 4).attr('font-size', 11).text('\u03bb');
    if (p.yTitle) t.append('tspan').attr('dy', -4).text(p.yTitle);
  }

  // annotations
  (p.notes || []).forEach(n => {
    svg.append('text')
      .attr('x', n.x).attr('y', n.y)
      .attr('text-anchor', n.anchor || 'start')
      .attr('font-size', n.size || 18.5)
      .attr('textLength', n.w).attr('lengthAdjust', 'spacingAndGlyphs')
      .attr('fill', n.color || '#000')
      .text(n.text);
  });
}

drawPanel({
  id: 'a', left: 72.5, top: 12.3, yDomain: [0, 1],
  yMajor: tickSet(0, 1, 0.2), yMinorStep: 0.05, yTitle: ' (cgs)', yTitleWidth: 180,
  series: [
    { data: sn2008dA, color: colors.green },
    { data: sn1998bwA, color: colors.cyan },
    { data: sn2002apA, color: colors.purple },
    { data: cowEarly, color: colors.black, width: 2.6 },
    { data: fitEarly, color: colors.black, width: 1.2, dash: '12,8' }
  ],
  notes: [
    { text: 'AT2018cow (5.3 d)', x: 298, y: 43, w: 185, size: 19 },
    { text: legendEarly[0], x: 393, y: 78, w: 86, color: colors.green },
    { text: legendEarly[1], x: 393, y: 98, w: 98, color: colors.cyan },
    { text: legendEarly[2], x: 393, y: 118, w: 86, color: colors.purple }
  ]
});

drawPanel({
  id: 'b', left: 657, top: 12.3, yDomain: [-0.2, 0.25],
  yMajor: tickSet(-0.2, 0.2, 0.1), yMinorStep: 0.02,
  series: [
    { data: cowSubEarly, color: colors.black, width: 1.4 },
    { data: sn2002apSub, color: colors.purple },
    { data: sn1998bwSub, color: colors.cyan },
    { data: sn2008dSub, color: colors.green }
  ],
  notes: [
    { text: 'Continuum subtracted', x: 863, y: 44, w: 217, size: 19 }
  ]
});

drawPanel({
  id: 'c', left: 72.5, top: 429, yDomain: [0, 1],
  yMajor: tickSet(0, 1, 0.2), yMinorStep: 0.05, yTitle: '', yTitleWidth: 130,
  series: [
    { data: asassn14aeC, color: colors.red },
    { data: asassn15oiC, color: colors.orange },
    { data: sn1998sC, color: colors.blue },
    { data: cowLate, color: colors.black, width: 2.6 },
    { data: fitLate, color: colors.black, width: 1.2, dash: '12,8' }
  ],
  notes: [
    { text: 'AT2018cow (26.4 d)', x: 298, y: 468, w: 197, size: 19 },
    { text: legendLate[0], x: 298, y: 493, w: 122, color: colors.blue },
    { text: legendLate[1], x: 298, y: 516, w: 162, color: colors.orange },
    { text: legendLate[2], x: 298, y: 538, w: 169, color: colors.red }
  ]
});

drawPanel({
  id: 'd', left: 657, top: 429, yDomain: [-0.1, 0.3],
  yMajor: tickSet(-0.1, 0.3, 0.1), yMinorStep: 0.01,
  series: [
    { data: cowSubLate, color: colors.black, width: 1.5 },
    { data: sn1998sSub, color: colors.blue },
    { data: asassn15oiSub, color: colors.orange },
    { data: asassn14aeSub, color: colors.red }
  ],
  notes: [
    { text: 'Continuum subtracted', x: 863, y: 468, w: 217, size: 19 }
  ]
});
</script>
</body>
</html>
